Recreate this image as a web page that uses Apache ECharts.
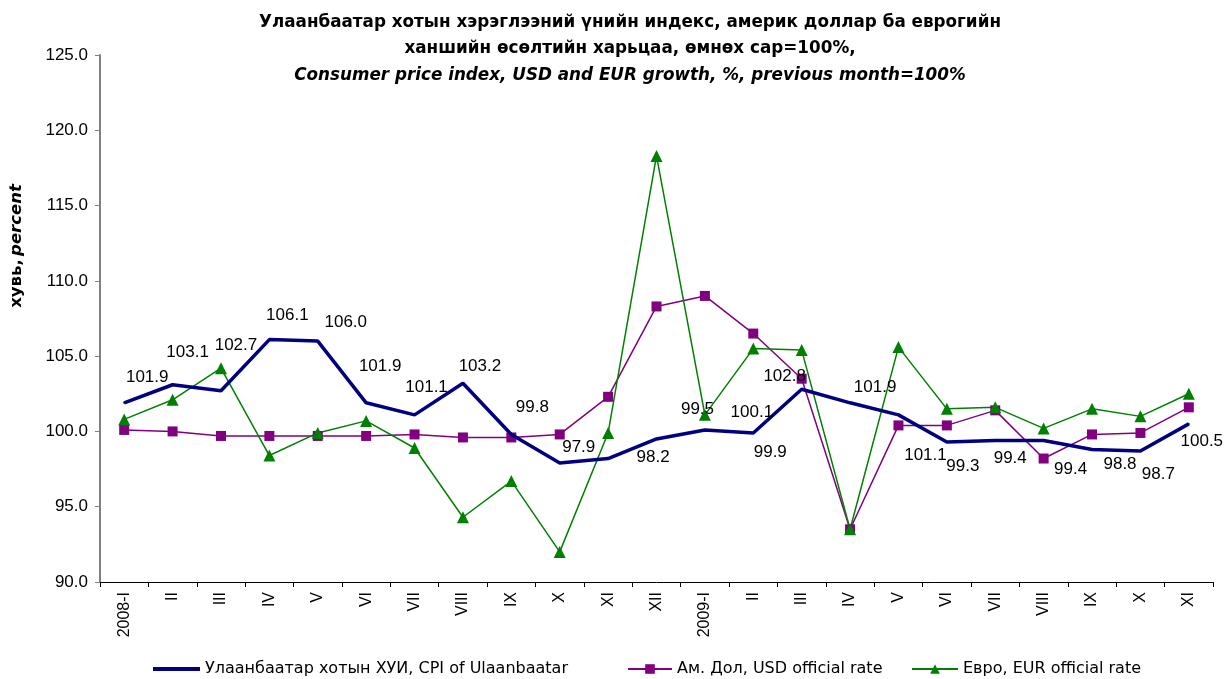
<!DOCTYPE html>
<html>
<head>
<meta charset="utf-8">
<script src="https://cdn.jsdelivr.net/npm/echarts@6/dist/echarts.min.js"></script>
<style>
html,body{margin:0;padding:0;background:#fff;}
#chart{width:1231px;height:679px;}
</style>
</head>
<body>
<div id="chart"></div>
<script>
// ---- data ----
const categories = ['2008-I','II','III','IV','V','VI','VII','VIII','IX','X','XI','XII',
                    '2009-I','II','III','IV','V','VI','VII','VIII','IX','X','XI'];
const cpiUB = [101.9,103.1,102.7,106.1,106.0,101.9,101.1,103.2,99.8,97.9,98.2,99.5,
               100.1,99.9,102.8,101.9,101.1,99.3,99.4,99.4,98.8,98.7,100.5];
const usdRate = [100.1,100.0,99.7,99.7,99.7,99.7,99.8,99.6,99.6,99.8,102.3,108.3,
                 109.0,106.5,103.5,93.5,100.4,100.4,101.4,98.2,99.8,99.9,101.6];
const eurRate = [100.8,102.1,104.2,98.4,99.9,100.7,98.9,94.3,96.7,92.0,99.9,118.3,
                 101.1,105.5,105.4,93.5,105.6,101.5,101.6,100.2,101.5,101.0,102.5];
const yTicks = {min: 90, max: 125, interval: 5};
const seriesNames = ['Улаанбаатар хотын ХУИ, CPI of Ulaanbaatar', 'Ам. Дол, USD official rate', 'Евро, EUR official rate'];

// label placement (pixel offsets of CPI data labels, as in the reference)
const cpiLabelOffsets = [[23,-26],[15,-32],[15,-45],[18,-24],[28,-19],[14,-37],[12,-28],[17,-17],
  [21,-27],[19,-16],[45,-1],[41,-30],[47,-18],[17,19],[-17,-13],[25,-16],[27,40],[16,24],
  [15,18],[27,29],[28,15],[18,23],[13,17]];

const chart = echarts.init(document.getElementById('chart'), null, {renderer:'canvas'});
const FONT = '"Liberation Sans", Arial, sans-serif';
const WIDE = '"DejaVu Sans", sans-serif';

chart.setOption({
  backgroundColor: '#fff',
  animation: false,
  textStyle: {fontFamily: FONT, color: '#000'},
  title: {
    left: 625, textAlign: 'center', top: 4,
    text: 'Улаанбаатар хотын хэрэглээний үнийн индекс, америк доллар ба еврогийн\nханшийн өсөлтийн харьцаа, өмнөх сар=100%,\n{i|Consumer price index, USD and EUR growth, %, previous month=100%}',
    textStyle: {
      fontFamily: WIDE, fontSize: 16.8, fontWeight: 'bold', color: '#000', lineHeight: 26.5,
      rich: {i: {fontFamily: WIDE, fontSize: 16.8, fontWeight: 'bold', fontStyle: 'italic', color: '#000', lineHeight: 26.5}}
    }
  },
  graphic: [{
    type: 'text', x: 17, y: 246, rotation: Math.PI / 2,
    style: {
      text: '{b|хувь,} {bi|percent}',
      rich: {
        b: {fontFamily: WIDE, fontSize: 16.5, fontWeight: 'bold', fill: '#000'},
        bi: {fontFamily: WIDE, fontSize: 16.5, fontWeight: 'bold', fontStyle: 'italic', fill: '#000'}
      },
      align: 'center', verticalAlign: 'middle'
    }
  }],
  grid: {left: 100, right: 18, top: 55, bottom: 97, containLabel: false},
  legend: [
    {data: [{name: seriesNames[0], icon: 'path://M0,3 L47,3 L47,6.8 L0,6.8 Z'}], left: 148, top: 656, itemWidth: 47, itemHeight: 10,
     itemGap: 5, textStyle: {fontFamily: WIDE, fontSize: 16, color: '#000'}},
    {data: [seriesNames[1]], left: 622, top: 656, itemWidth: 44, itemHeight: 12,
     textStyle: {fontFamily: WIDE, fontSize: 16, color: '#000'}},
    {data: [seriesNames[2]], left: 906, top: 656, itemWidth: 46, itemHeight: 12,
     textStyle: {fontFamily: WIDE, fontSize: 16, color: '#000'}}
  ],
  xAxis: {
    type: 'category', data: categories, boundaryGap: true,
    axisLine: {onZero: false, lineStyle: {color: '#000', width: 1}},
    axisTick: {show: true, alignWithLabel: false, length: 5, lineStyle: {color: '#000'}},
    axisLabel: {rotate: 90, fontFamily: FONT, fontSize: 16, color: '#000', margin: 10, interval: 0},
    splitLine: {show: false}
  },
  yAxis: {
    type: 'value', min: yTicks.min, max: yTicks.max, interval: yTicks.interval,
    axisLine: {show: true, lineStyle: {color: '#808080', width: 2}},
    axisTick: {show: true, length: 5, lineStyle: {color: '#808080'}},
    axisLabel: {formatter: v => v.toFixed(1), fontFamily: FONT, fontSize: 17, color: '#000', margin: 12},
    splitLine: {show: false}
  },
  series: [
    {
      name: seriesNames[0], type: 'line', data: cpiUB, z: 3,
      symbol: 'circle', symbolSize: 2, showSymbol: true,
      lineStyle: {color: '#000080', width: 3.5},
      itemStyle: {color: '#000080'},
      label: {show: true, position: 'inside', align: 'center', verticalAlign: 'middle',
              fontFamily: FONT, fontSize: 17, color: '#000',
              formatter: p => p.value.toFixed(1)},
      labelLayout: p => ({
        dx: cpiLabelOffsets[p.dataIndex][0],
        dy: cpiLabelOffsets[p.dataIndex][1],
        hideOverlap: false
      })
    },
    {
      name: seriesNames[1], type: 'line', data: usdRate, z: 2,
      symbol: 'rect', symbolSize: 10,
      lineStyle: {color: '#800080', width: 1.5},
      itemStyle: {color: '#800080'}
    },
    {
      name: seriesNames[2], type: 'line', data: eurRate, z: 2,
      symbol: 'triangle', symbolSize: 12,
      lineStyle: {color: '#008000', width: 1.5},
      itemStyle: {color: '#008000'}
    }
  ]
});
</script>
</body>
</html>
